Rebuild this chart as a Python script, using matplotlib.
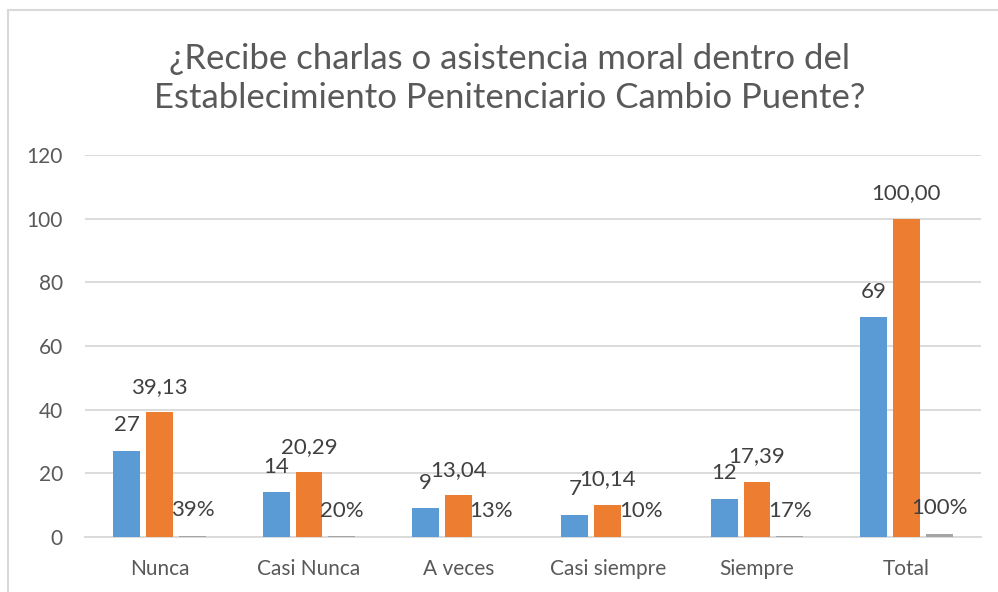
import matplotlib
matplotlib.use("Agg")
import matplotlib.pyplot as plt
from matplotlib.patches import Rectangle
import numpy as np

categories = ["Nunca", "Casi Nunca", "A veces", "Casi siempre", "Siempre", "Total"]
frecuencia = [27, 14, 9, 7, 12, 69]
porcentaje = [39.13, 20.29, 13.04, 10.14, 17.39, 100.00]
proporcion = [0.39, 0.20, 0.13, 0.10, 0.17, 1.00]
yticks = [0, 20, 40, 60, 80, 100, 120]

title = "¿Recibe charlas o asistencia moral dentro del\nEstablecimiento Penitenciario Cambio Puente?"

plt.rcParams['font.family'] = ['Lato', 'DejaVu Sans']
txt = '#595959'
grid = '#d9d9d9'

fig = plt.figure(figsize=(9.98, 5.92), dpi=100)
fig.patches.append(Rectangle((8/998, -0.1), 1.2, 1 - 10/592 + 0.1, transform=fig.transFigure,
                             fill=False, edgecolor='#d9d9d9', linewidth=1.5))
ax = fig.add_axes([85/998, 1 - 537/592, 896/998, (537 - 155)/592])

x = np.arange(len(categories))
w = 0.18
off = 0.22
series = [
    (frecuencia, '#5B9BD5', -off, [f"{v}" for v in frecuencia]),
    (porcentaje, '#ED7D31', 0, [f"{v:.2f}".replace('.', ',') for v in porcentaje]),
    (proporcion, '#A5A5A5', off, [f"{round(v*100)}%" for v in proporcion]),
]
for vals, col, o, labs in series:
    bars = ax.bar(x + o, vals, w, color=col, zorder=3)
    for b, lab in zip(bars, labs):
        ax.annotate(lab, (b.get_x() + b.get_width() / 2, b.get_height()),
                    xytext=(0, 18.5), textcoords='offset points',
                    ha='center', va='center', fontsize=16, color='#404040', zorder=4)

ax.set_xlim(-0.5, len(categories) - 0.5)
ax.set_ylim(0, 120)
ax.set_yticks(yticks)
ax.set_xticks(x)
ax.set_xticklabels(categories)
ax.yaxis.grid(True, color=grid, linewidth=1.3, zorder=0)
ax.set_axisbelow(True)
for s in ['top', 'right', 'left']:
    ax.spines[s].set_visible(False)
ax.spines['bottom'].set_color(grid)
ax.spines['bottom'].set_linewidth(1.3)
ax.tick_params(axis='both', length=0, labelsize=15, labelcolor=txt)
ax.tick_params(axis='y', pad=16)
ax.tick_params(axis='x', pad=16)

fig.text(510/998, 1 - 78.5/592, title, ha='center', va='center', fontsize=25,
         color=txt, linespacing=1.3)

fig.savefig("out.png", dpi=100)
